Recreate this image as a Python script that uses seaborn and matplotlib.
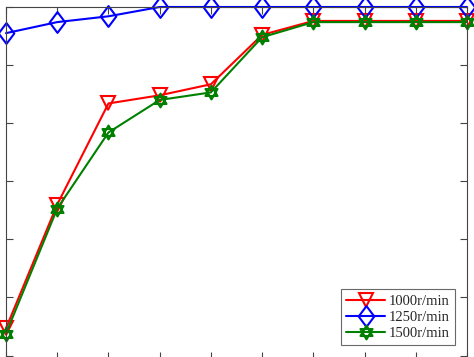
import numpy as np
import pandas as pd
import matplotlib
matplotlib.use("Agg")
import matplotlib.pyplot as plt
from matplotlib.path import Path
import seaborn as sns

# Data (arbitrary units)
steps = [1, 2, 3, 4, 5, 6, 7, 8, 9, 10]
speed_1000 = [0.47, 2.60, 4.34, 4.48, 4.67, 5.52, 5.76, 5.76, 5.76, 5.76]
speed_1250 = [5.55, 5.74, 5.84, 6.00, 6.00, 6.00, 6.00, 6.00, 6.00, 6.00]
speed_1500 = [0.38, 2.53, 3.84, 4.40, 4.53, 5.48, 5.74, 5.74, 5.74, 5.74]
labels = ["1000r/min", "1250r/min", "1500r/min"]

sns.set_style("white")
plt.rcParams['font.family'] = ['Liberation Serif', 'DejaVu Serif']

# hexagram marker
t1 = Path([(0, 1), (-0.866, -0.5), (0.866, -0.5), (0, 1)],
          [Path.MOVETO, Path.LINETO, Path.LINETO, Path.CLOSEPOLY])
t2 = Path([(0, -1), (-0.866, 0.5), (0.866, 0.5), (0, -1)],
          [Path.MOVETO, Path.LINETO, Path.LINETO, Path.CLOSEPOLY])
hexagram = Path.make_compound_path(t1, t2)
# slightly tall diamond marker
diamond = Path([(0, 1), (-0.75, 0), (0, -1), (0.75, 0), (0, 1)],
               [Path.MOVETO, Path.LINETO, Path.LINETO, Path.LINETO, Path.CLOSEPOLY])

fig = plt.figure(figsize=(4.74, 3.57), dpi=100)
ax = fig.add_axes([6/474, -1.5/357, 461/474, 351.5/357])

series = [(speed_1000, "#ff0000", "v", 10),
          (speed_1250, "#0000ff", diamond, 15),
          (speed_1500, "#008000", hexagram, 10)]
for (vals, col, mk, ms), lab in zip(series, labels):
    sns.lineplot(x=steps, y=vals, ax=ax, color=col, marker=mk, markersize=ms,
                 markerfacecolor="none", markeredgecolor=col, markeredgewidth=1.5,
                 linewidth=1.5, label=lab, clip_on=False)

ax.set_xlim(1, 10)
ax.set_ylim(-0.05, 6)
ax.set_xticks(steps)
ax.set_yticks(range(0, 7))
ax.set_xticklabels([])
ax.set_yticklabels([])
ax.tick_params(direction="in", length=5, width=0.8, color="#444444",
               top=True, right=True, bottom=True, left=True)
for s in ax.spines.values():
    s.set_color("#444444")
    s.set_linewidth(0.8)
    s.set_visible(True)

leg = ax.legend(loc="lower right", frameon=True, fancybox=False, fontsize=10.5,
                bbox_to_anchor=(455/474, 12/357), bbox_transform=fig.transFigure,
                borderaxespad=0, handlelength=2.7, labelspacing=0.2,
                borderpad=0.35, handletextpad=0.25)
leg.get_frame().set_edgecolor("#444444")
leg.get_frame().set_linewidth(0.8)

fig.savefig("out.png", dpi=100)
